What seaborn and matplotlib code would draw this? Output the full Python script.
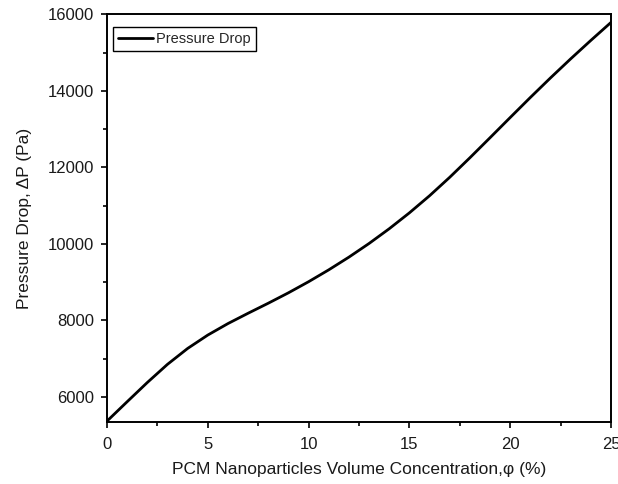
import matplotlib
matplotlib.use("Agg")
import matplotlib.pyplot as plt
import seaborn as sns
import pandas as pd
from matplotlib.ticker import MultipleLocator

concentration = [0, 1, 2, 3, 4, 5, 6, 7, 8, 9, 10, 11, 12, 13, 14, 15, 16, 17, 18, 19, 20, 21, 22, 23, 24, 25]
pressure_drop = [5370, 5877, 6379, 6854, 7269, 7619, 7919, 8189, 8451, 8723, 9013, 9323, 9655,
                 10012, 10397, 10812, 11259, 11741, 12251, 12775, 13303, 13827, 14339, 14836, 15318, 15788]
series_name = "Pressure Drop"
x_ticks = [0, 5, 10, 15, 20, 25]
y_ticks = [6000, 8000, 10000, 12000, 14000, 16000]

sns.set_theme(style="ticks")
plt.rcParams['font.family'] = ['Liberation Sans', 'DejaVu Sans']

df = pd.DataFrame({"x": concentration, "y": pressure_drop, "series": series_name})

fig = plt.figure(figsize=(6.18, 4.84), dpi=100)
ax = fig.add_axes([0.1731, 0.1275, 0.8156, 0.843])
sns.lineplot(data=df, x="x", y="y", hue="series", palette=["black"], linewidth=2, ax=ax)

ax.set_xlim(0, 25)
ax.set_ylim(5340, 16000)
ax.set_xticks(x_ticks)
ax.set_yticks(y_ticks)
ax.xaxis.set_minor_locator(MultipleLocator(2.5))
ax.yaxis.set_minor_locator(MultipleLocator(1000))
ax.tick_params(which="major", direction="out", length=4.5, width=1.2, labelsize=12,
               colors="black", labelcolor="#1a1a1a")
ax.tick_params(which="minor", direction="out", length=3, width=1.2, colors="black")
ax.tick_params(axis="x", which="major", pad=6)
ax.tick_params(axis="y", which="major", pad=5)
for s in ax.spines.values():
    s.set_color("black")
    s.set_linewidth(1.4)

ax.set_xlabel("PCM Nanoparticles Volume Concentration,φ (%)", fontsize=12.5,
              labelpad=7.5, color="#1a1a1a")
ax.set_ylabel("Pressure Drop, ΔP (Pa)", fontsize=12.5, labelpad=11, color="#1a1a1a")

leg = ax.legend(loc="upper left", bbox_to_anchor=(6 / 504, 1 - 13 / 408),
                borderaxespad=0, fontsize=10.5, frameon=True, fancybox=False,
                edgecolor="black", handlelength=2.4, handletextpad=0.2,
                borderpad=0.35)
leg.get_frame().set_linewidth(1.0)
leg.get_frame().set_alpha(1)
leg.set_title(None)

fig.savefig("out.png", dpi=100)
